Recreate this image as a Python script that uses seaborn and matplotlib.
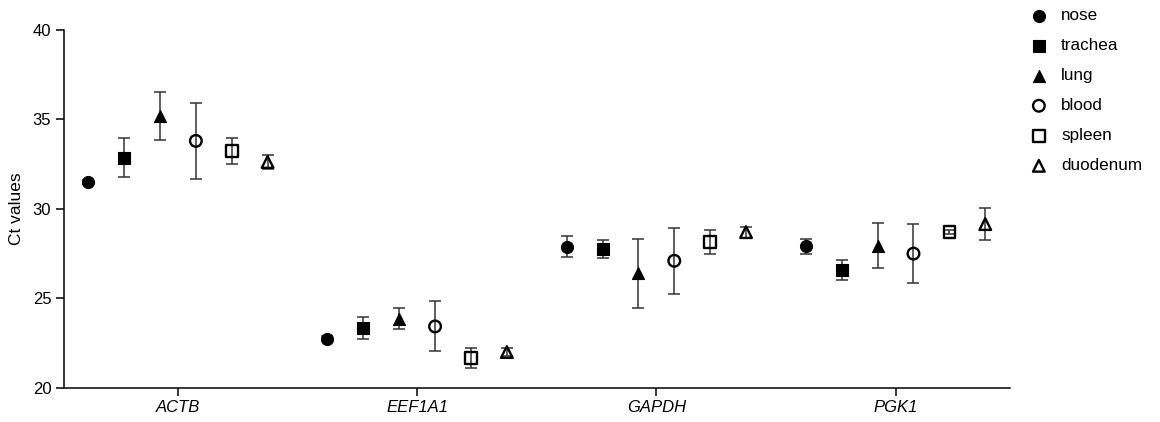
import numpy as np
import pandas as pd
import matplotlib
matplotlib.use("Agg")
import matplotlib.pyplot as plt
import seaborn as sns

# Ct values (mean and error bar half-width)
genes = ["ACTB", "EEF1A1", "GAPDH", "PGK1"]
tissues = ["nose", "trachea", "lung", "blood", "spleen", "duodenum"]

nose_mean = [31.5, 22.75, 27.88, 27.9]
nose_err = [0.1, 0.12, 0.58, 0.4]
trachea_mean = [32.87, 23.33, 27.75, 26.58]
trachea_err = [1.1, 0.62, 0.5, 0.54]
lung_mean = [35.2, 23.87, 26.4, 27.95]
lung_err = [1.35, 0.57, 1.93, 1.25]
blood_mean = [33.8, 23.43, 27.1, 27.5]
blood_err = [2.13, 1.4, 1.85, 1.63]
spleen_mean = [33.24, 21.65, 28.15, 28.7]
spleen_err = [0.71, 0.55, 0.65, 0.12]
duodenum_mean = [32.62, 22.0, 28.7, 29.15]
duodenum_err = [0.4, 0.2, 0.3, 0.9]

means = [nose_mean, trachea_mean, lung_mean, blood_mean, spleen_mean, duodenum_mean]
errs = [nose_err, trachea_err, lung_err, blood_err, spleen_err, duodenum_err]

rows = []
for ti, t in enumerate(tissues):
    for gi, g in enumerate(genes):
        rows.append({"gene": g, "tissue": t, "ct": means[ti][gi], "err": errs[ti][gi],
                     "xpos": gi + (ti - 2.5) * 0.15})
df = pd.DataFrame(rows)

sns.set_style("ticks")
plt.rcParams["font.family"] = ["Liberation Sans", "DejaVu Sans"]
plt.rcParams["text.color"] = "black"
plt.rcParams["axes.labelcolor"] = "black"
plt.rcParams["xtick.color"] = "black"
plt.rcParams["ytick.color"] = "black"

fig = plt.figure(figsize=(11.6, 4.22), dpi=100)
ax = fig.add_axes([0.055, 0.081, 0.816, 0.848])

markers = {"nose": "o", "trachea": "s", "lung": "^", "blood": "o", "spleen": "s", "duodenum": "^"}
filled = {"nose": True, "trachea": True, "lung": True, "blood": False, "spleen": False, "duodenum": False}

for t in tissues:
    sub = df[df["tissue"] == t]
    ax.errorbar(sub["xpos"], sub["ct"], yerr=sub["err"], fmt="none",
                ecolor="#333333", elinewidth=1.1, capsize=4, capthick=1.1, zorder=2)
    if filled[t]:
        sns.scatterplot(data=sub, x="xpos", y="ct", marker=markers[t], s=75,
                        facecolor="black", edgecolor="black", linewidth=0.8,
                        label=t, ax=ax, zorder=3)
    else:
        sns.scatterplot(data=sub, x="xpos", y="ct", marker=markers[t], s=70,
                        facecolor="none", edgecolor="black", linewidth=1.7,
                        label=t, ax=ax, zorder=3)

ax.set_xlim(-0.477, 3.48)
ax.set_ylim(20, 40)
ax.set_yticks([20, 25, 30, 35, 40])
ax.set_xticks(range(len(genes)))
ax.set_xticklabels(genes, fontstyle="italic")
ax.set_xlabel("")
ax.set_ylabel("Ct values", fontsize=12.5, labelpad=6)
ax.tick_params(axis="both", labelsize=12, length=6, width=1.1, color="black", pad=3)
for side in ["left", "bottom"]:
    ax.spines[side].set_linewidth(1.1)
    ax.spines[side].set_color("black")
sns.despine(ax=ax)

ax.legend(loc="upper left", bbox_to_anchor=(0.872, 1.005), bbox_transform=fig.transFigure,
          frameon=False, fontsize=12.3, labelspacing=0.88, handletextpad=0.3,
          borderaxespad=0.2)

fig.savefig("out.png", dpi=100)
